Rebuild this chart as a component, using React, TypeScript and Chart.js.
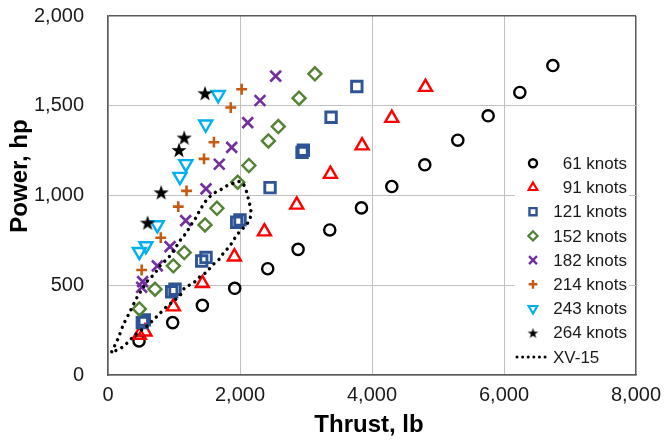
import React, { useEffect, useRef } from 'react';
import { Chart, registerables } from 'chart.js';
import { drawPoint } from 'chart.js/helpers';

Chart.register(...registerables);

// ---- data ----
const xTicks = [0, 2000, 4000, 6000, 8000];
const yTicks = [0, 500, 1000, 1500, 2000];

const k61X = [470, 980, 1430, 1920, 2420, 2880, 3360, 3840, 4300, 4800, 5300, 5760, 6240, 6740];
const k61Y = [190, 292, 388, 483, 592, 700, 808, 931, 1050, 1171, 1308, 1444, 1574, 1724];

const k91X = [474, 560, 990, 1430, 1915, 2370, 2860, 3370, 3850, 4300, 4810];
const k91Y = [223, 241, 381, 511, 659, 799, 948, 1119, 1278, 1431, 1604];

const k121X = [520, 550, 965, 1015, 1420, 1485, 1950, 2000, 2455, 2940, 2960, 3380, 3770];
const k121Y = [292, 307, 464, 478, 635, 655, 851, 864, 1044, 1240, 1252, 1436, 1607];

const k152X = [475, 712, 990, 1155, 1470, 1650, 1965, 2135, 2430, 2580, 2895, 3135];
const k152Y = [368, 478, 608, 682, 836, 929, 1074, 1167, 1304, 1384, 1542, 1678];

const k182X = [510, 525, 747, 940, 1177, 1485, 1686, 1874, 2117, 2303, 2541];
const k182Y = [489, 520, 608, 715, 860, 1037, 1174, 1268, 1406, 1529, 1665];

const k214X = [510, 800, 1065, 1190, 1455, 1605, 1860, 2025];
const k214Y = [585, 765, 938, 1026, 1204, 1297, 1490, 1592];

const k243X = [475, 575, 747, 1090, 1180, 1480, 1670];
const k243Y = [687, 719, 836, 1105, 1176, 1397, 1561];

const k264X = [600, 805, 1075, 1155, 1470];
const k264Y = [849, 1018, 1254, 1323, 1570];

const xv15X = [56, 106, 156, 232, 333, 435, 510, 611, 687, 747, 798, 879, 950, 1015, 1066, 1116, 1182, 1242, 1293, 1343, 1394, 1444, 1495, 1571, 1646, 1747, 1823, 1899, 1975, 2040, 2101, 2130, 2160, 2165, 2140, 2080, 1975, 1899, 1848, 1747, 1697, 1646, 1586, 1520, 1470, 1394, 1318, 1242, 1167, 1116, 1015, 889, 788, 687, 611, 510, 409, 333, 258, 167, 65];
const xv15Y = [130, 167, 206, 279, 353, 429, 474, 530, 557, 585, 613, 641, 669, 706, 733, 762, 790, 827, 855, 883, 920, 948, 976, 1003, 1022, 1040, 1059, 1068, 1078, 1070, 1020, 975, 930, 895, 860, 830, 790, 750, 720, 678, 650, 632, 613, 585, 567, 548, 520, 502, 489, 455, 418, 381, 344, 307, 279, 251, 223, 195, 167, 143, 130];

const seriesLabels = ['61 knots', '91 knots', '121 knots', '152 knots', '182 knots', '214 knots', '243 knots', '264 knots'];
const seriesX = [k61X, k91X, k121X, k152X, k182X, k214X, k243X, k264X];
const seriesY = [k61Y, k91Y, k121Y, k152Y, k182Y, k214Y, k243Y, k264Y];
const lineLabel = 'XV-15';
const xTitle = 'Thrust, lb';
const yTitle = 'Power, hp';

function makeStar(outer: number, inner: number) {
  const size = Math.ceil(outer * 2 + 2);
  const c = document.createElement('canvas');
  c.width = size;
  c.height = size;
  const ctx = c.getContext('2d')!;
  ctx.beginPath();
  for (let i = 0; i < 10; i++) {
    const r = i % 2 === 0 ? outer : inner;
    const a = -Math.PI / 2 + (i * Math.PI) / 5;
    const px = size / 2 + r * Math.cos(a);
    const py = size / 2 + r * Math.sin(a) + 0.8;
    if (i === 0) ctx.moveTo(px, py);
    else ctx.lineTo(px, py);
  }
  ctx.closePath();
  ctx.fillStyle = '#000';
  ctx.fill();
  return c;
}

const noPad = (s: any) => {
  s.paddingTop = 0;
  s.paddingBottom = 0;
  s.paddingLeft = 0;
  s.paddingRight = 0;
};

export default function App() {
  const ref = useRef<HTMLCanvasElement | null>(null);

  useEffect(() => {
    if (!ref.current) return;
    const starBig = makeStar(8, 3.2);
    const starSmall = makeStar(5.5, 2.2);

    const styles = [
      { color: '#000000', pointStyle: 'circle', radius: 5.6, bw: 2.4, rotation: 0, lr: 4, lbw: 2.4 },
      { color: '#FF0000', pointStyle: 'triangle', radius: 7.5, bw: 2.4, rotation: 0, lr: 5, lbw: 2.2 },
      { color: '#2F5496', pointStyle: 'rect', radius: 7.4, bw: 2.9, rotation: 0, lr: 5, lbw: 2.4 },
      { color: '#548235', pointStyle: 'rectRot', radius: 6.5, bw: 2.4, rotation: 0, lr: 4.6, lbw: 2.2 },
      { color: '#7030A0', pointStyle: 'crossRot', radius: 7.6, bw: 2.6, rotation: 0, lr: 5.6, lbw: 2.4 },
      { color: '#C55A11', pointStyle: 'cross', radius: 5.4, bw: 2.6, rotation: 0, lr: 4.4, lbw: 2.4 },
      { color: '#00B0F0', pointStyle: 'triangle', radius: 7.5, bw: 2.4, rotation: 180, lr: 5, lbw: 2.2 },
      { color: '#000000', pointStyle: starBig as any, radius: 8, bw: 0, rotation: 0, lr: 5, lbw: 0 },
    ];

    const datasets: any[] = seriesLabels.map((label, i) => ({
      label,
      data: seriesX[i].map((x, j) => ({ x, y: seriesY[i][j] })),
      showLine: false,
      pointStyle: styles[i].pointStyle,
      pointRadius: styles[i].radius,
      pointRotation: styles[i].rotation,
      pointBorderWidth: styles[i].bw,
      pointBorderColor: styles[i].color,
      pointBackgroundColor: 'rgba(0,0,0,0)',
      borderColor: styles[i].color,
      order: 20 - i,
    }));

    datasets.push({
      label: lineLabel,
      data: xv15X.map((x, j) => ({ x, y: xv15Y[j] })),
      showLine: true,
      pointRadius: 0,
      borderColor: '#000000',
      borderWidth: 3.4,
      borderDash: [0.01, 6.6],
      borderCapStyle: 'round',
      tension: 0.3,
      order: 0,
    });

    const fmt = (v: number) => v.toLocaleString('en-US');

    const decorPlugin = {
      id: 'decor',
      afterDatasetsDraw(chart: any) {
        const ctx = chart.ctx as CanvasRenderingContext2D;
        const ca = chart.chartArea;
        ctx.save();
        // legend box
        const boxL = ca.right - 121;
        const boxR = ca.right - 7;
        const boxT = ca.top + 134;
        const boxB = ca.bottom - 8;
        ctx.fillStyle = '#ffffff';
        ctx.fillRect(boxL, boxT, boxR - boxL, boxB - boxT);
        const rowY0 = ca.top + 147.3;
        const step = 24.2;
        const markerX = ca.right - 103;
        const textR = ca.right - 9;
        ctx.font = '17px "Liberation Sans", Arial, sans-serif';
        ctx.textBaseline = 'middle';
        seriesLabels.forEach((label, i) => {
          const y = rowY0 + i * step;
          const s = styles[i];
          ctx.strokeStyle = s.color;
          ctx.fillStyle = 'rgba(0,0,0,0)';
          ctx.lineWidth = s.lbw;
          if (i === 7) {
            ctx.drawImage(starSmall, markerX - starSmall.width / 2, y - starSmall.height / 2);
          } else {
            drawPoint(ctx, { pointStyle: s.pointStyle, rotation: s.rotation, radius: s.lr, borderWidth: s.lbw } as any, markerX, y);
          }
          ctx.fillStyle = '#1a1a1a';
          ctx.textAlign = 'right';
          ctx.fillText(label, textR, y + 1);
        });
        const ly = rowY0 + 8 * step;
        ctx.strokeStyle = '#000';
        ctx.lineWidth = 3;
        ctx.lineCap = 'round';
        ctx.setLineDash([0.01, 5.6]);
        ctx.beginPath();
        ctx.moveTo(ca.right - 119, ly);
        ctx.lineTo(ca.right - 86, ly);
        ctx.stroke();
        ctx.setLineDash([]);
        ctx.fillStyle = '#1a1a1a';
        ctx.textAlign = 'left';
        ctx.fillText(lineLabel, ca.right - 83, ly + 1);

        // axis titles
        ctx.font = 'bold 24px "Liberation Sans", Arial, sans-serif';
        ctx.textAlign = 'center';
        ctx.textBaseline = 'middle';
        ctx.fillStyle = '#000';
        ctx.fillText(xTitle, (ca.left + ca.right) / 2 - 3, ca.bottom + 50);
        ctx.translate(20, ca.top + 160);
        ctx.rotate(-Math.PI / 2);
        ctx.fillText(yTitle, 0, 0);
        ctx.restore();
      },
    };

    const chart = new Chart(ref.current, {
      type: 'scatter',
      data: { datasets },
      plugins: [decorPlugin],
      options: {
        animation: false,
        responsive: false,
        layout: { padding: { left: 0, right: 28, top: 16, bottom: 0 } },
        plugins: { legend: { display: false }, tooltip: { enabled: false } },
        scales: {
          x: {
            type: 'linear',
            min: 0,
            max: 8000,
            afterFit: (s: any) => { s.height = 70; noPad(s); },
            afterBuildTicks: (s: any) => { s.ticks = xTicks.map((v) => ({ value: v })); },
            ticks: {
              callback: (v: any) => fmt(Number(v)),
              font: { family: '"Liberation Sans", Arial, sans-serif', size: 20 },
              color: '#1a1a1a',
              padding: 8,
              maxRotation: 0,
            },
            grid: {
              drawTicks: false,
              color: (c: any) => (c.tick && c.tick.value === 8000 ? '#595959' : '#C0C0C0'),
              lineWidth: (c: any) => (c.tick && c.tick.value === 8000 ? 1.5 : 1),
            },
            border: { color: '#595959', width: 1.5 },
          },
          y: {
            type: 'linear',
            min: 0,
            max: 2000,
            afterFit: (s: any) => { s.width = 108; noPad(s); },
            afterBuildTicks: (s: any) => { s.ticks = yTicks.map((v) => ({ value: v })); },
            ticks: {
              callback: (v: any) => fmt(Number(v)),
              font: { family: '"Liberation Sans", Arial, sans-serif', size: 20 },
              color: '#1a1a1a',
              padding: 24,
            },
            grid: {
              drawTicks: false,
              color: (c: any) => (c.tick && c.tick.value === 2000 ? '#595959' : '#C0C0C0'),
              lineWidth: (c: any) => (c.tick && c.tick.value === 2000 ? 1.5 : 1),
            },
            border: { color: '#595959', width: 1.5 },
          },
        },
      },
    });
    return () => chart.destroy();
  }, []);

  return (
    <div style={{ position: 'fixed', left: 0, top: 0, width: 664, height: 445, background: '#fff' }}>
      <canvas ref={ref} width={664} height={445} style={{ width: 664, height: 445, display: 'block' }} />
    </div>
  );
}
